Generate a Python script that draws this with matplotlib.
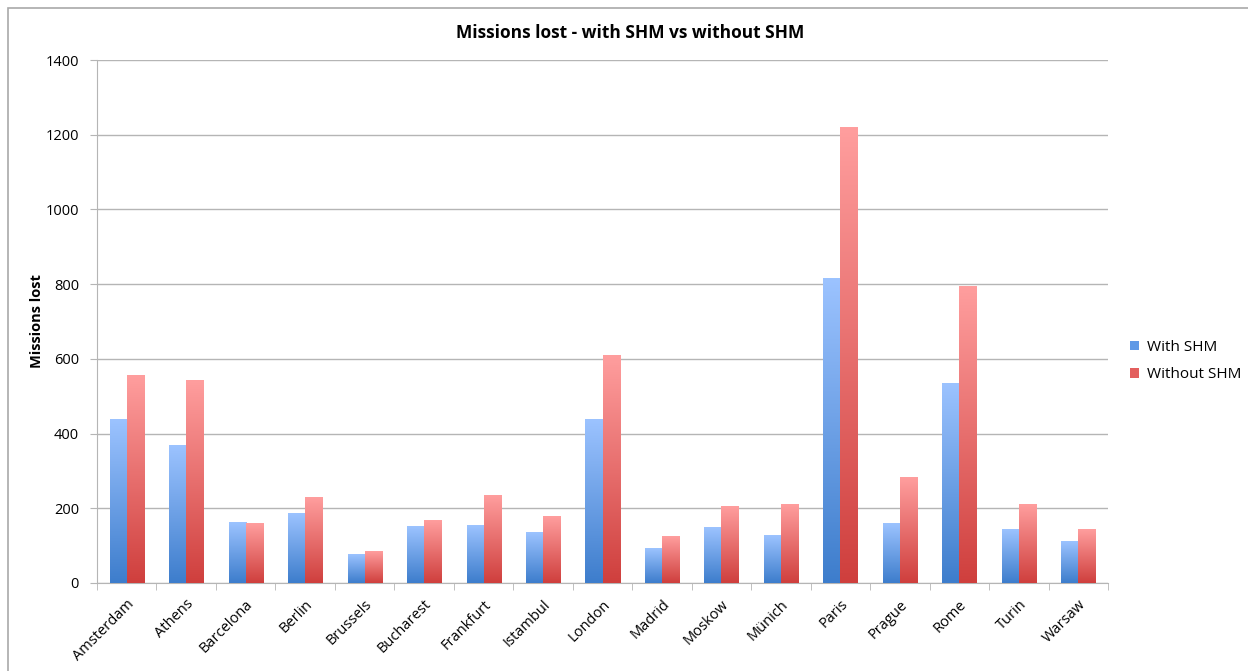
import numpy as np
import matplotlib.pyplot as plt
from matplotlib.colors import LinearSegmentedColormap
from matplotlib.patches import Rectangle, Patch

plt.rcParams['font.family'] = ['Open Sans', 'DejaVu Sans']

cities = ['Amsterdam', 'Athens', 'Barcelona', 'Berlin', 'Brussels', 'Bucharest',
          'Frankfurt', 'Istambul', 'London', 'Madrid', 'Moskow', 'Münich',
          'Paris', 'Prague', 'Rome', 'Turin', 'Warsaw']
with_shm = [438, 369, 162, 185, 76, 150, 153, 136, 438, 92, 148, 127,
            815, 159, 534, 142, 110]
without_shm = [556, 541, 158, 229, 84, 167, 233, 179, 609, 125, 206, 209,
               1218, 283, 795, 209, 143]

# bottom -> top colours of the bar gradients
blue_cmap = LinearSegmentedColormap.from_list('blue', ['#3d7dcc', '#9cc3ff'])
red_cmap = LinearSegmentedColormap.from_list('red', ['#cf3f3d', '#ff9e9e'])
grad = np.linspace(0, 1, 256).reshape(-1, 1)

fig = plt.figure(figsize=(12.48, 6.71), dpi=100)
ax = fig.add_axes([97 / 1248, 88 / 671, 1011 / 1248, 523 / 671])

w = 0.286
x = np.arange(len(cities))

def grad_bars(xs, heights, cmap, offset):
    for xi, h in zip(xs, heights):
        x0 = xi + offset
        ax.imshow(grad, cmap=cmap, origin='lower', aspect='auto',
                  extent=[x0, x0 + w, 0, h], zorder=3, interpolation='bilinear')
        ax.add_patch(Rectangle((x0, 0), w, h, fill=False, edgecolor='#e4e4e4',
                               linewidth=0.6, zorder=2.9))

grad_bars(x, with_shm, blue_cmap, -w)
grad_bars(x, without_shm, red_cmap, 0)

ax.set_xlim(-0.5, len(cities) - 0.5)
ax.set_ylim(0, 1400)
ax.set_yticks(np.arange(0, 1401, 200))
ax.yaxis.grid(True, color='#b5b5b5', linewidth=1)
ax.set_axisbelow(True)

ax.set_xticks(x)
ax.set_xticklabels(cities, rotation=45, ha='right', rotation_mode='anchor', fontsize=10.5)
ax.set_xticks(np.arange(-0.5, len(cities)), minor=True)
ax.tick_params(axis='x', which='major', length=0, pad=10)
ax.tick_params(axis='x', which='minor', length=5, color='#b5b5b5')
ax.tick_params(axis='y', length=5, color='#b5b5b5', labelsize=10.5, pad=8)

for s in ['top', 'right']:
    ax.spines[s].set_visible(False)
for s in ['left', 'bottom']:
    ax.spines[s].set_color('#b5b5b5')

ax.set_ylabel('Missions lost', fontsize=10.5, fontweight='bold', labelpad=1)
fig.text(630 / 1248, 1 - 33 / 671, 'Missions lost - with SHM vs without SHM',
         ha='center', va='center', fontsize=12.5, fontweight='bold')

handles = [Patch(facecolor='#5f99e6', label='With SHM'),
           Patch(facecolor='#e35f5e', label='Without SHM')]
fig.legend(handles=handles, loc='center left', bbox_to_anchor=(1116 / 1248, 1 - 361 / 671),
           frameon=False, fontsize=11, handlelength=0.6, handleheight=0.6,
           handletextpad=0.5, labelspacing=0.8)

# chart frame
fig.patches.append(Rectangle((8 / 1248, -0.1), 1.2, 1 - 8 / 671 + 0.1,
                             transform=fig.transFigure, fill=False,
                             edgecolor='#a9a9a9', linewidth=1.2))

fig.savefig('out.png', dpi=100)
